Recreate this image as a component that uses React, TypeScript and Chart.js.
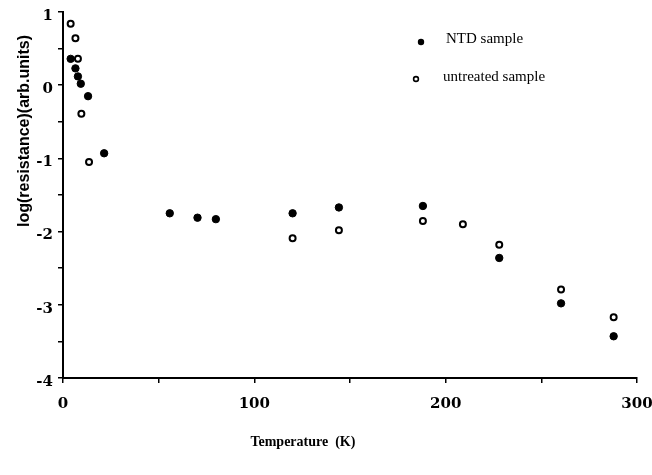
import React, { useEffect, useRef } from "react";
import { Chart, registerables } from "chart.js";

Chart.register(...registerables);

// NTD sample (filled circles)
const ntdTemp = [4.0, 6.5, 7.8, 9.3, 13.1, 21.5, 55.8, 70.3, 79.9, 120.0, 144.2, 188.1, 228.0, 260.3, 287.8];
const ntdLogR = [0.36, 0.23, 0.12, 0.02, -0.15, -0.93, -1.75, -1.81, -1.83, -1.75, -1.67, -1.65, -2.36, -2.98, -3.43];

// untreated sample (open circles)
const untTemp = [4.0, 6.5, 7.8, 9.6, 13.6, 120.0, 144.2, 188.1, 209.0, 228.0, 260.3, 287.8];
const untLogR = [0.84, 0.64, 0.36, -0.39, -1.05, -2.09, -1.98, -1.855, -1.9, -2.18, -2.79, -3.17];

const xTickLabels = ["0", "100", "200", "300"];
const yTickLabels = ["1", "0", "-1", "-2", "-3", "-4"];
const seriesNames = ["NTD sample", "untreated sample"];
const xTitle = "Temperature  (K)";
const yTitle = "log(resistance)(arb.units)";

const decor = {
  id: "decor",
  afterDraw(chart: any) {
    const ctx = chart.ctx;
    const a = chart.chartArea;
    ctx.save();
    ctx.fillStyle = "#000";
    ctx.strokeStyle = "#000";
    // x title
    ctx.font = "bold 14px 'Liberation Serif'";
    ctx.textAlign = "center";
    ctx.textBaseline = "middle";
    ctx.fillText(xTitle, a.left + (a.right - a.left) * 0.418, 442);
    // y title
    ctx.save();
    ctx.translate(25, a.top + (a.bottom - a.top) * 0.325);
    ctx.rotate(-Math.PI / 2);
    ctx.font = "bold 16px 'Liberation Sans'";
    ctx.fillText(yTitle, 0, 0);
    ctx.restore();
    // legend
    ctx.font = "15px 'Liberation Serif'";
    ctx.textAlign = "left";
    ctx.beginPath();
    ctx.arc(421, 42, 3.2, 0, Math.PI * 2);
    ctx.fill();
    ctx.fillText(seriesNames[0], 446, 39);
    ctx.beginPath();
    ctx.lineWidth = 1.6;
    ctx.arc(416, 79, 2.4, 0, Math.PI * 2);
    ctx.stroke();
    ctx.fillText(seriesNames[1], 443, 77);
    ctx.restore();
  },
};

export default function App() {
  const ref = useRef<HTMLCanvasElement>(null);
  useEffect(() => {
    if (!ref.current) return;
    const chart = new Chart(ref.current, {
      type: "scatter",
      data: {
        datasets: [
          {
            label: seriesNames[0],
            data: ntdTemp.map((t, i) => ({ x: t, y: ntdLogR[i] })),
            pointRadius: 3.7,
            pointBackgroundColor: "#000",
            pointBorderColor: "#000",
            pointBorderWidth: 1,
          },
          {
            label: seriesNames[1],
            data: untTemp.map((t, i) => ({ x: t, y: untLogR[i] })),
            pointRadius: 3,
            pointBackgroundColor: "#fff",
            pointBorderColor: "#000",
            pointBorderWidth: 2,
          },
        ],
      },
      options: {
        responsive: false,
        animation: false,
        layout: { padding: { top: 12, right: 15, left: 0, bottom: 0 } },
        plugins: { legend: { display: false }, tooltip: { enabled: false } },
        scales: {
          x: {
            type: "linear",
            min: 0,
            max: 300,
            afterFit: (s: any) => {
              s.height = 97;
              s.paddingLeft = 0;
              s.paddingRight = 0;
            },
            border: { display: true, color: "#000", width: 2 },
            grid: { drawOnChartArea: false, drawTicks: true, tickLength: 5, color: "#000", lineWidth: 1.5 },
            ticks: {
              stepSize: 50,
              padding: 12,
              color: "#000",
              font: { family: "'DejaVu Serif'", weight: "bold", size: 15 },
              maxRotation: 0,
              callback: (v: any) => (Number(v) % 100 === 0 ? xTickLabels[Number(v) / 100] : ""),
            },
          },
          y: {
            type: "linear",
            min: -4,
            max: 1,
            afterFit: (s: any) => {
              s.width = 63;
              s.paddingTop = 0;
              s.paddingBottom = 0;
            },
            border: { display: true, color: "#000", width: 2 },
            grid: { drawOnChartArea: false, drawTicks: true, tickLength: 5, color: "#000", lineWidth: 1.5 },
            ticks: {
              stepSize: 0.5,
              padding: 5,
              labelOffset: 4,
              color: "#000",
              font: { family: "'DejaVu Serif'", weight: "bold", size: 15 },
              callback: (v: any) => (Number.isInteger(Number(v)) ? yTickLabels[1 - Number(v)] : ""),
            },
          },
        },
      },
      plugins: [decor],
    });
    return () => chart.destroy();
  }, []);
  return (
    <div style={{ position: "fixed", left: 0, top: 0, width: 652, height: 475, background: "#fff" }}>
      <canvas ref={ref} width={652} height={475} style={{ display: "block" }} />
    </div>
  );
}
